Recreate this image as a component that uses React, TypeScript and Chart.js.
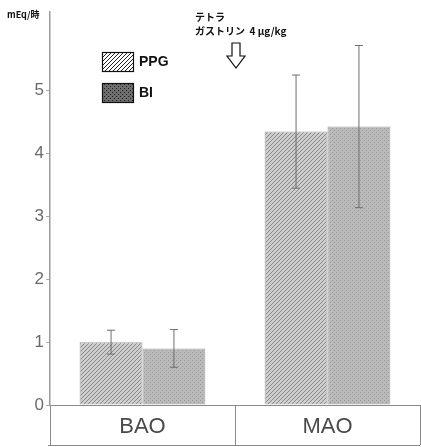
import React, { useEffect, useRef } from "react";
import { Chart, registerables } from "chart.js";

Chart.register(...registerables);

const categories = ["BAO", "MAO"];
const seriesNames = ["PPG", "BI"];
const ppgValues = [1.0, 4.35];
const ppgErrors = [0.19, 0.9];
const biValues = [0.9, 4.43];
const biErrors = [0.3, 1.29];
const yTicks = [0, 1, 2, 3, 4, 5];
const yUnit = "mEq/時";
const noteLine1 = "テトラ";
const noteLine2 = "ガストリン  4 μg/kg";

function makeHatch(bg: string, fg: string, size: number) {
  const c = document.createElement("canvas");
  c.width = size;
  c.height = size;
  const g = c.getContext("2d")!;
  g.fillStyle = bg;
  g.fillRect(0, 0, size, size);
  g.strokeStyle = fg;
  g.lineWidth = 1;
  g.beginPath();
  g.moveTo(0, size);
  g.lineTo(size, 0);
  g.moveTo(-size / 2, size / 2);
  g.lineTo(size / 2, -size / 2);
  g.moveTo(size / 2, size * 1.5);
  g.lineTo(size * 1.5, size / 2);
  g.stroke();
  return g.createPattern(c, "repeat")!;
}

function makeDots(bg: string, fg: string) {
  const c = document.createElement("canvas");
  c.width = 4;
  c.height = 4;
  const g = c.getContext("2d")!;
  g.fillStyle = bg;
  g.fillRect(0, 0, 4, 4);
  g.fillStyle = fg;
  g.fillRect(0, 0, 1, 1);
  g.fillRect(2, 2, 1, 1);
  return g.createPattern(c, "repeat")!;
}

export default function App() {
  const ref = useRef<HTMLCanvasElement>(null);

  useEffect(() => {
    const canvas = ref.current!;
    const ppgFill = makeHatch("#cdcdcd", "#8a8a8a", 4);
    const biFill = makeDots("#bababa", "#979797");
    const ppgLegend = makeHatch("#ffffff", "#222222", 4);
    const biLegend = makeDots("#6e6e6e", "#1e1e1e");
    const errors = [ppgErrors, biErrors];

    const overlay = {
      id: "overlay",
      afterDatasetsDraw(chart: any) {
        const ctx = chart.ctx;
        const ys = chart.scales.y;
        const xs = chart.scales.x;
        const area = chart.chartArea;
        ctx.save();
        // error bars
        chart.data.datasets.forEach((ds: any, di: number) => {
          const meta = chart.getDatasetMeta(di);
          meta.data.forEach((el: any, i: number) => {
            const v = ds.data[i];
            const e = errors[di][i];
            const yTop = ys.getPixelForValue(v + e);
            const yBot = ys.getPixelForValue(v - e);
            const x = el.x;
            ctx.strokeStyle = "#6e6e6e";
            ctx.lineWidth = 1;
            ctx.beginPath();
            ctx.moveTo(x, yTop);
            ctx.lineTo(x, yBot);
            ctx.moveTo(x - 4, yTop);
            ctx.lineTo(x + 4, yTop);
            ctx.moveTo(x - 4, yBot);
            ctx.lineTo(x + 4, yBot);
            ctx.stroke();
          });
        });
        // bottom line of category box
        const boxBottom = area.bottom + 40;
        ctx.strokeStyle = "#8a8a8a";
        ctx.lineWidth = 1;
        ctx.beginPath();
        ctx.moveTo(area.left - 2, boxBottom + 0.5);
        ctx.lineTo(area.right, boxBottom + 0.5);
        ctx.stroke();
        // legend
        const lx = 102;
        const items = [
          { y: 52, fill: ppgLegend, label: seriesNames[0] },
          { y: 83, fill: biLegend, label: seriesNames[1] },
        ];
        items.forEach((it) => {
          ctx.fillStyle = it.fill;
          ctx.fillRect(lx, it.y, 31, 19);
          ctx.strokeStyle = "#111";
          ctx.lineWidth = 1.2;
          ctx.strokeRect(lx + 0.5, it.y + 0.5, 31, 19);
          ctx.fillStyle = "#111";
          ctx.font = "bold 14px 'Liberation Sans', Arial, sans-serif";
          ctx.textBaseline = "middle";
          ctx.textAlign = "left";
          ctx.fillText(it.label, lx + 37, it.y + 10);
        });
        // unit label
        ctx.font = "bold 9px 'Noto Sans CJK JP', sans-serif";
        ctx.fillStyle = "#111";
        ctx.textBaseline = "middle";
        ctx.fillText(yUnit, 7, 15);
        // annotation
        ctx.font = "bold 10px 'Noto Sans CJK JP', sans-serif";
        ctx.fillText(noteLine1, 195, 17);
        ctx.fillText(noteLine2, 195, 31);
        // arrow at boundary between categories
        const ax = (xs.getPixelForTick(0) + xs.getPixelForTick(1)) / 2 + 1;
        const top = 43;
        const mid = 56;
        const tip = 68;
        ctx.strokeStyle = "#111";
        ctx.lineWidth = 1.2;
        ctx.beginPath();
        ctx.moveTo(ax - 4, top);
        ctx.lineTo(ax + 4, top);
        ctx.lineTo(ax + 4, mid);
        ctx.lineTo(ax + 9, mid);
        ctx.lineTo(ax, tip);
        ctx.lineTo(ax - 9, mid);
        ctx.lineTo(ax - 4, mid);
        ctx.closePath();
        ctx.stroke();
        ctx.restore();
      },
    };

    const chart = new Chart(canvas, {
      type: "bar",
      data: {
        labels: categories,
        datasets: [
          {
            label: seriesNames[0],
            data: ppgValues,
            backgroundColor: ppgFill as any,
            borderColor: "#a0a0a0",
            borderWidth: 1,
          },
          {
            label: seriesNames[1],
            data: biValues,
            backgroundColor: biFill as any,
            borderColor: "#a0a0a0",
            borderWidth: 1,
          },
        ],
      },
      options: {
        responsive: false,
        animation: false,
        events: [],
        layout: { padding: { top: 10, right: 1, left: 0, bottom: 0 } },
        plugins: {
          legend: { display: false },
          tooltip: { enabled: false },
        },
        datasets: {
          bar: { barPercentage: 1, categoryPercentage: 0.68 },
        },
        scales: {
          x: {
            afterFit: (s: any) => {
              s.height = 42;
            },
            grid: {
              offset: true,
              drawOnChartArea: false,
              drawTicks: true,
              tickLength: 40,
              color: "#8a8a8a",
            },
            border: { display: true, color: "#8a8a8a", width: 1 },
            ticks: {
              padding: -31,
              color: "#4a4a4a",
              font: { size: 22, family: "'Liberation Sans', Arial, sans-serif" },
            },
          },
          y: {
            min: 0,
            max: 6.25,
            afterFit: (s: any) => {
              s.width = 50;
            },
            afterBuildTicks: (s: any) => {
              s.ticks = yTicks.map((v) => ({ value: v }));
            },
            grid: {
              drawOnChartArea: false,
              drawTicks: true,
              tickLength: 4,
              color: "#aaa",
            },
            border: { display: true, color: "#9a9a9a", width: 1.5 },
            ticks: {
              padding: 2,
              color: "#6a6a6a",
              font: { size: 17, family: "'Liberation Sans', Arial, sans-serif" },
            },
          },
        },
      },
      plugins: [overlay],
    });
    return () => chart.destroy();
  }, []);

  return (
    <div style={{ position: "fixed", left: 0, top: 0, width: 421, height: 447, background: "#fff" }}>
      <canvas ref={ref} width={421} height={447} style={{ display: "block" }} />
    </div>
  );
}
